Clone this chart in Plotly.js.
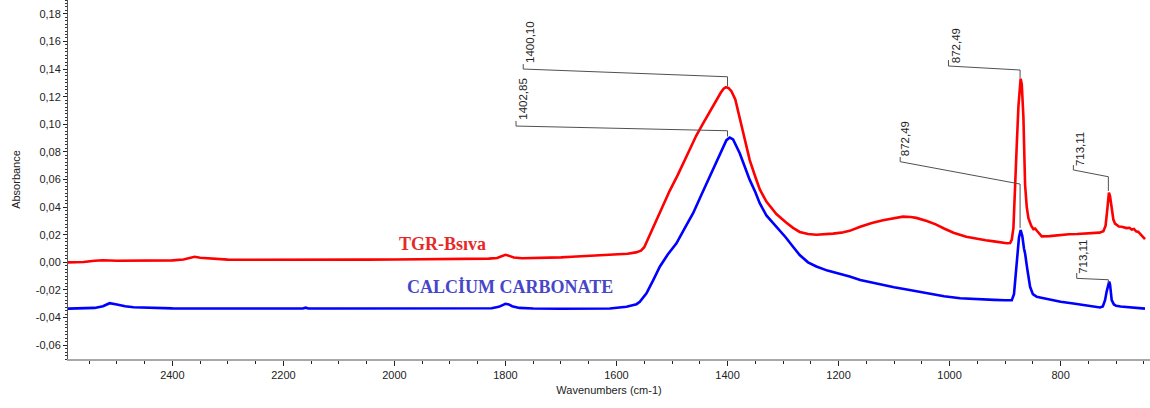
<!DOCTYPE html>
<html>
<head>
<meta charset="utf-8">
<script src="https://cdn.plot.ly/plotly-3.0.1.min.js"></script>
<style>html,body{margin:0;padding:0;background:#fff;}#chart{width:1150px;height:408px;}</style>
</head>
<body>
<div id="chart"></div>
<script>
// ---- data (wavenumber cm-1, absorbance) ----
const redName = "TGR-Bsıva";
const blueName = "CALCİUM CARBONATE";

const redWn = [2588,2560,2540,2525,2500,2450,2400,2380,2368,2360,2350,2335,2320,2300,2250,2200,2150,2100,2050,2000,1950,1900,1860,1830,1815,1808,1800,1792,1785,1770,1750,1700,1680,1650,1640,1620,1600,1580,1565,1556,1550,1543,1535,1525,1515,1504,1490,1475,1462,1456,1445,1432,1420,1412,1407,1403,1398,1393,1386,1378,1368,1360,1350,1342,1330,1312,1295,1282,1270,1255,1240,1225,1210,1195,1180,1161,1140,1120,1100,1084,1070,1060,1041,1025,1010,993,970,951,935,920,905,897,891,888,885,882,879,876,874,872,870,867,864,861,858,853,849,846,842,838,834,820,801,785,770,755,741,730,723,719,716,713,711,708,705,702,695,690,681,676,672,668,664,660,656,652,648];
const redAbs = [0.0000,0.0003,0.0012,0.0015,0.0012,0.0012,0.0014,0.0020,0.0035,0.0040,0.0033,0.0028,0.0022,0.0020,0.0019,0.0018,0.0018,0.0019,0.0020,0.0021,0.0022,0.0024,0.0025,0.0027,0.0032,0.0045,0.0055,0.0045,0.0035,0.0030,0.0031,0.0036,0.0040,0.0045,0.0050,0.0055,0.0058,0.0062,0.0072,0.0085,0.0110,0.0174,0.0240,0.0330,0.0420,0.0520,0.0630,0.0760,0.0870,0.0920,0.1000,0.1090,0.1180,0.1230,0.1258,0.1268,0.1262,0.1240,0.1180,0.1050,0.0870,0.0740,0.0620,0.0530,0.0440,0.0350,0.0290,0.0250,0.0220,0.0205,0.0200,0.0202,0.0208,0.0215,0.0228,0.0258,0.0285,0.0305,0.0322,0.0331,0.0328,0.0322,0.0300,0.0275,0.0245,0.0215,0.0185,0.0170,0.0160,0.0152,0.0143,0.0138,0.0140,0.0165,0.0250,0.0500,0.0850,0.1130,0.1280,0.1330,0.1290,0.1050,0.0560,0.0400,0.0320,0.0265,0.0240,0.0245,0.0225,0.0205,0.0188,0.0190,0.0200,0.0203,0.0205,0.0208,0.0210,0.0215,0.0225,0.0265,0.0380,0.0505,0.0480,0.0380,0.0310,0.0280,0.0260,0.0258,0.0248,0.0250,0.0238,0.0242,0.0225,0.0220,0.0205,0.0185,0.0168];

const blueWn = [2588,2560,2540,2525,2513,2500,2485,2470,2440,2400,2350,2300,2250,2200,2165,2160,2155,2100,2050,2000,1950,1900,1850,1825,1812,1806,1800,1794,1788,1775,1750,1700,1650,1612,1582,1564,1558,1546,1534,1522,1508,1492,1478,1462,1447,1432,1420,1408,1402,1396,1390,1378,1368,1360,1350,1342,1330,1312,1295,1282,1270,1255,1240,1220,1200,1180,1161,1130,1100,1072,1040,1010,981,950,920,900,888,884,881,878,875,872,869,866,864,860,855,850,846,843,837,820,800,777,755,740,729,724,720,717,714,712.5,711,708,704,700,692,680,665,654,648];
const blueAbs = [-0.0335,-0.0333,-0.0330,-0.0318,-0.0296,-0.0305,-0.0318,-0.0325,-0.0330,-0.0333,-0.0334,-0.0334,-0.0333,-0.0334,-0.0334,-0.0328,-0.0334,-0.0334,-0.0334,-0.0334,-0.0334,-0.0334,-0.0334,-0.0332,-0.0322,-0.0308,-0.0300,-0.0305,-0.0318,-0.0330,-0.0334,-0.0336,-0.0335,-0.0334,-0.0322,-0.0303,-0.0286,-0.0225,-0.0130,-0.0032,0.0055,0.0138,0.0240,0.0356,0.0490,0.0620,0.0730,0.0839,0.0885,0.0904,0.0890,0.0790,0.0680,0.0597,0.0510,0.0428,0.0340,0.0258,0.0180,0.0113,0.0053,0.0000,-0.0030,-0.0060,-0.0080,-0.0102,-0.0128,-0.0155,-0.0180,-0.0200,-0.0225,-0.0245,-0.0260,-0.0268,-0.0272,-0.0275,-0.0274,-0.0230,-0.0100,0.0065,0.0180,0.0234,0.0190,0.0100,0.0065,-0.0050,-0.0177,-0.0230,-0.0240,-0.0250,-0.0255,-0.0270,-0.0285,-0.0298,-0.0310,-0.0318,-0.0327,-0.0320,-0.0274,-0.0210,-0.0152,-0.0140,-0.0160,-0.0274,-0.0305,-0.0315,-0.0320,-0.0325,-0.0330,-0.0334,-0.0335];

const xTickVals = [2400,2200,2000,1800,1600,1400,1200,1000,800];
const xTickText = ["2400","2200","2000","1800","1600","1400","1200","1000","800"];
const yTickVals = [-0.06,-0.04,-0.02,0.00,0.02,0.04,0.06,0.08,0.10,0.12,0.14,0.16,0.18];
const yTickText = ["-0,06","-0,04","-0,02","0,00","0,02","0,04","0,06","0,08","0,10","0,12","0,14","0,16","0,18"];

// peak labels (text, peak wavenumber)
const peakText = ["1400,10","1402,85","872,49","872,49","713,11","713,11"];

// ---- label / leader geometry (layout only) ----
const leaders = [
  {tx:1756, ty:0.1429, path:[[1768,0.1436],[1768,0.1400],[1400,0.1344],[1400,0.1274]]},
  {tx:1769, ty:0.1016, path:[[1781,0.1024],[1781,0.0987],[1400,0.0953],[1400,0.0911]]},
  {tx:989,  ty:0.1429, path:[[1002,0.1465],[1002,0.1422],[873,0.1393],[873,0.1333]]},
  {tx:1079, ty:0.0756, path:[[1089,0.0763],[1089,0.0729],[873,0.0567],[873,0.0249]]},
  {tx:765,  ty:0.0683, path:[[777,0.0705],[777,0.0669],[714,0.0620],[714,0.0517]]},
  {tx:760,  ty:-0.0099, path:[[771,-0.0077],[771,-0.0116],[714,-0.0126],[714,-0.0150]]}
];

const traces = [
  {x: redWn, y: redAbs, type:'scatter', mode:'lines', name: redName,
   line:{color:'#ff0000', width:2.6}, hoverinfo:'skip'},
  {x: blueWn, y: blueAbs, type:'scatter', mode:'lines', name: blueName,
   line:{color:'#0000ff', width:2.6}, hoverinfo:'skip'}
];

const shapes = leaders.map(l => ({
  type:'path', xref:'x', yref:'y',
  path: l.path.map((p,i)=>(i===0?'M ':'L ')+p[0]+','+p[1]).join(' '),
  line:{color:'#505050', width:1}
}));

const annotations = leaders.map((l,i)=>({
  x:l.tx, y:l.ty, xref:'x', yref:'y', text: peakText[i], showarrow:false,
  textangle:-90, xanchor:'center', yanchor:'bottom',
  font:{family:'Liberation Sans, Arial, sans-serif', size:11.5, color:'#222'}
}));
annotations.push({x:1914, y:0.0133, xref:'x', yref:'y', text:redName, showarrow:false,
  xanchor:'center', yanchor:'middle',
  font:{family:'Liberation Serif, Times New Roman, serif', size:18, color:'#e62828', weight:'bold'}});
annotations.push({x:1792, y:-0.0176, xref:'x', yref:'y', text:blueName, showarrow:false,
  xanchor:'center', yanchor:'middle',
  font:{family:'Liberation Serif, Times New Roman, serif', size:18, color:'#4646c8', weight:'bold'}});

const tickFont = {family:'Liberation Sans, Arial, sans-serif', size:11, color:'#222'};

const layout = {
  width:1150, height:408,
  margin:{l:68, r:0, t:0, b:49},
  paper_bgcolor:'#fff', plot_bgcolor:'#fff',
  showlegend:false,
  xaxis:{
    range:[2588,639], showgrid:false, zeroline:false,
    showline:true, linecolor:'#a8a8a8', linewidth:2,
    tickmode:'array', tickvals:xTickVals, ticktext:xTickText,
    ticks:'outside', ticklen:5, tickwidth:1, tickcolor:'#222',
    minor:{tickmode:'linear', tick0:0, dtick:50, ticks:'outside', ticklen:3, tickcolor:'#222', tickwidth:1},
    tickfont:tickFont,
    title:{text:'Wavenumbers (cm-1)', font:tickFont, standoff:6}
  },
  yaxis:{
    range:[-0.07,0.19], showgrid:false, zeroline:false,
    showline:true, linecolor:'#555', linewidth:1,
    tickmode:'array', tickvals:yTickVals, ticktext:yTickText,
    ticks:'outside', ticklen:4, tickwidth:1, tickcolor:'#222',
    minor:{tickmode:'linear', tick0:0, dtick:0.0025, ticks:'outside', ticklen:2, tickcolor:'#333', tickwidth:1},
    tickfont:tickFont,
    title:{text:'Absorbance', font:tickFont, standoff:12}
  },
  shapes: shapes,
  annotations: annotations
};

Plotly.newPlot('chart', traces, layout, {displayModeBar:false, staticPlot:true});
</script>
</body>
</html>
